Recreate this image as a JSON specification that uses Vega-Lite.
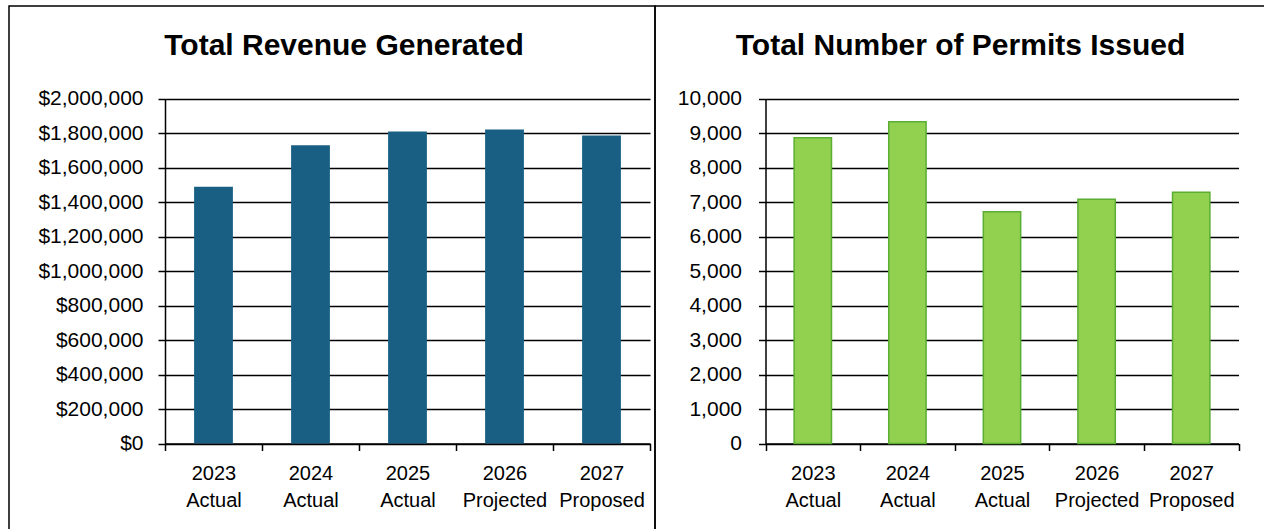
{
  "$schema": "https://vega.github.io/schema/vega-lite/v6.json",
  "padding": {"left": 8, "top": 5, "right": -3, "bottom": -3},
  "background": "white",
  "spacing": 0,
  "bounds": "flush",
  "config": {
    "font": "Liberation Sans",
    "view": {"stroke": "#000000", "strokeWidth": 1.5},
    "axis": {
      "labelFont": "Liberation Sans",
      "labelFontSize": 20,
      "labelColor": "#000000",
      "domainColor": "#000000",
      "domainWidth": 1.5,
      "tickColor": "#000000",
      "tickWidth": 1.5,
      "tickSize": 7,
      "gridColor": "#000000",
      "gridWidth": 1.5,
      "gridOpacity": 1,
      "title": null,
      "labelOverlap": false
    },
    "title": {
      "font": "Liberation Sans",
      "fontSize": 30,
      "fontWeight": "bold",
      "color": "#000000",
      "anchor": "middle",
      "frame": "group",
      "baseline": "alphabetic",
      "offset": -55
    }
  },
  "datasets": {
    "d": [
      {"period": "2023 Actual", "revenue": 1488000, "permits": 8865},
      {"period": "2024 Actual", "revenue": 1729000, "permits": 9328},
      {"period": "2025 Actual", "revenue": 1808000, "permits": 6720},
      {"period": "2026 Projected", "revenue": 1821000, "permits": 7077},
      {"period": "2027 Proposed", "revenue": 1785000, "permits": 7280}
    ]
  },
  "hconcat": [
    {
      "width": 646,
      "height": 525,
      "title": {"text": "Total Revenue Generated", "dx": 12},
      "data": {"name": "d"},
      "mark": {"type": "bar", "color": "#185F83", "width": {"band": 0.4}},
      "encoding": {
        "x": {
          "field": "period", "type": "nominal", "sort": null,
          "scale": {"range": [156, 641], "paddingInner": 0, "paddingOuter": 0},
          "axis": {"labelAngle": 0, "tickBand": "extent", "offset": -87.5, "labelExpr": "split(datum.label, ' ')", "labelLineHeight": 27, "labelPadding": 13, "grid": false}
        },
        "y": {
          "field": "revenue", "type": "quantitative",
          "scale": {"domain": [0, 2000000], "range": [437.5, 92.5], "nice": false},
          "axis": {"values": [0, 200000, 400000, 600000, 800000, 1000000, 1200000, 1400000, 1600000, 1800000, 2000000], "format": "$,d", "offset": -156, "labelPadding": 15, "labelFontSize": 21, "grid": true}
        }
      }
    },
    {
      "width": 611,
      "height": 525,
      "title": {"text": "Total Number of Permits Issued"},
      "data": {"name": "d"},
      "mark": {"type": "bar", "color": "#92D050", "stroke": "#5BAD33", "strokeWidth": 1.5, "width": {"band": 0.395}},
      "encoding": {
        "x": {
          "field": "period", "type": "nominal", "sort": null,
          "scale": {"range": [110.5, 583.5], "paddingInner": 0, "paddingOuter": 0},
          "axis": {"labelAngle": 0, "tickBand": "extent", "offset": -87.5, "labelExpr": "split(datum.label, ' ')", "labelLineHeight": 27, "labelPadding": 13, "grid": false}
        },
        "y": {
          "field": "permits", "type": "quantitative",
          "scale": {"domain": [0, 10000], "range": [437.5, 92.5], "nice": false},
          "axis": {"values": [0, 1000, 2000, 3000, 4000, 5000, 6000, 7000, 8000, 9000, 10000], "format": ",d", "offset": -110.5, "labelPadding": 17, "labelFontSize": 21, "grid": true}
        }
      }
    }
  ]
}
